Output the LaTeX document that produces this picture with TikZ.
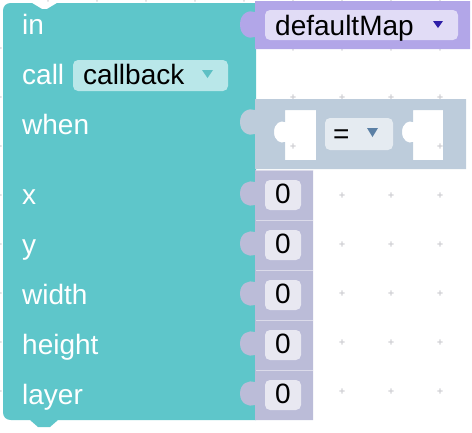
\documentclass[tikz,border=0pt]{standalone}
\usepackage{fontspec}
\setmainfont{Liberation Sans}

\definecolor{blockteal}{HTML}{5EC6CA}
\definecolor{fieldteal}{HTML}{B9E7E9}
\definecolor{arrowteal}{HTML}{5EC0C4}
\definecolor{mapblock}{HTML}{B2A6E8}
\definecolor{mapfield}{HTML}{E1DCF6}
\definecolor{maparrow}{HTML}{2E1FA8}
\definecolor{cmpblock}{HTML}{BDCCDB}
\definecolor{cmpfield}{HTML}{E5EBF1}
\definecolor{cmparrow}{HTML}{5B80A5}
\definecolor{numblock}{HTML}{BBBCD8}
\definecolor{numfield}{HTML}{E8E8F1}
\definecolor{gridgray}{HTML}{D2D2D6}

\begin{document}
\begin{tikzpicture}[x=1pt, y=-1pt,
  lbl/.style={text=white, anchor=base west, inner sep=0pt, font=\fontsize{28}{32}\selectfont},
  val/.style={text=black, inner sep=0pt, font=\fontsize{28}{32}\selectfont},
  gdot/.style={fill=gridgray},
  tab/.style n args={4}{insert path={
    .. controls ({#1-0.4*#3},{#2+1.1*#4}) and ({#1-#3},{#2+0.95*#4}) .. ({#1-#3},{#2+0.5*#4})
    .. controls ({#1-#3},{#2+0.05*#4}) and ({#1-0.4*#3},{#2-0.1*#4}) .. (#1,#2)}}]

  \useasboundingbox (0,0) rectangle (472,432);

  % Draw the grid dots
  \foreach \gx in {0,...,9}
    \foreach \gy in {0,...,9}
      \fill[gdot] ({-1+49*\gx},{-1+49*\gy}) +(-2.6,-0.6) rectangle +(2.6,0.6)
        +(-0.6,-2.6) rectangle +(0.6,2.6);

  % Draw the main block
  \fill[blockteal] (3,11) .. controls (3,6) and (6,3) .. (11,3) -- (32,3) -- (42,9) -- (47,9)
    -- (57,3) -- (256,3) -- (256,420) -- (58,420) -- (50,427) -- (38,427) -- (30,420)
    -- (11,420) .. controls (6,420) and (3,417) .. (3,412) -- cycle;

  % Labels of the main block
  \node[lbl] (in) at (22,34) {in};
  \node[lbl] (call) at (22,84) {call};
  \node[lbl] (when) at (22,134) {when};

  % Draw the callback field
  \fill[fieldteal, rounded corners=5] (73,60) rectangle (228,91);
  \node[val, anchor=base west] (callback) at (83,84) {callback};
  \fill[arrowteal] (202,70) -- (213,70) -- (207.5,78) -- cycle;

  % Draw the map block
  \fill[mapblock] (255,1) -- (470,1) -- (470,49) -- (255,49) -- (255,37) [tab={255}{12}{15}{25}] -- cycle;
  \fill[mapfield, rounded corners=5] (265,10) rectangle (458,40);
  \node[val, anchor=base west] (map) at (275,35) {defaultMap};
  \fill[maparrow] (433,21) -- (443,21) -- (438,28) -- cycle;

  % Draw the compare block with its two empty sockets
  \fill[cmpblock, even odd rule]
    (255,99) -- (466,99) -- (466,169) -- (255,169) -- (255,134) [tab={255}{110}{15}{24}] -- cycle
    (285,110) -- (316,110) -- (316,160) -- (285,160) -- (285,142) [tab={285}{122}{11}{20}] -- cycle
    (413,110) -- (443,110) -- (443,160) -- (413,160) -- (413,142) [tab={413}{122}{11}{20}] -- cycle;
  \fill[cmpfield, rounded corners=5] (325,118) rectangle (393,150);
  \node[val, anchor=base west] (op) at (333,143) {=};
  \fill[cmparrow] (367,128) -- (378,128) -- (372.5,137) -- cycle;

  % Draw the number rows
  \foreach \lab [count=\i from 0] in {x,y,width,height,layer} {
    \pgfmathsetmacro\rowtop{170+50*\i}
    \node[lbl] (lbl-\i) at (22,{\rowtop+34}) {\lab};
    \fill[numblock] (255,\rowtop) -- (313,\rowtop) -- (313,{\rowtop+50}) -- (255,{\rowtop+50})
      -- (255,{\rowtop+35}) [tab={255}{\rowtop+12}{15}{23}] -- cycle;
    \draw[numfield!70!numblock, line width=1pt] (256,{\rowtop+0.5}) -- (313,{\rowtop+0.5});
    \fill[numfield, rounded corners=5] (265,{\rowtop+10}) rectangle (301,{\rowtop+40});
    \node[val, anchor=base] (num-\i) at (283,{\rowtop+33}) {0};
  }

\end{tikzpicture}
\end{document}
